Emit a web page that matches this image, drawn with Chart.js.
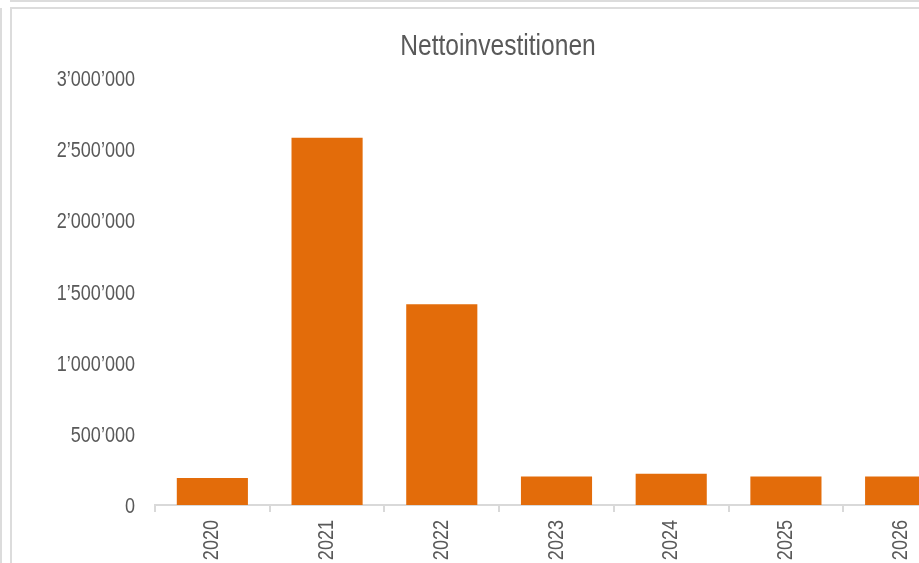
<!DOCTYPE html>
<html lang="de">
<head>
<meta charset="utf-8">
<title>Nettoinvestitionen</title>
<script src="https://cdn.jsdelivr.net/npm/chart.js@4/dist/chart.umd.min.js"></script>
<style>
  html, body {
    margin: 0;
    padding: 0;
    width: 919px;
    height: 563px;
    overflow: hidden;
    background: #ffffff;
  }
  .frame-top {
    position: absolute;
    left: 10px;
    top: 0;
    width: 960px;
    height: 2px;
    background: #dcdcdc;
  }
  .frame-left {
    position: absolute;
    left: 0;
    top: 8px;
    width: 2px;
    height: 600px;
    background: #dcdcdc;
  }
  .chart-box {
    position: absolute;
    left: 10px;
    top: 7px;
    width: 1000px;
    height: 600px;
    border-top: 2px solid #dcdcdc;
    border-left: 2px solid #dcdcdc;
  }
  .chart-wrap {
    position: absolute;
    left: 12px;
    top: 9px;
    width: 972px;
    height: 554px;
  }
</style>
</head>
<body>
<div class="frame-top"></div>
<div class="frame-left"></div>
<div class="chart-box"></div>
<div class="chart-wrap">
  <canvas id="investChart" width="972" height="554"></canvas>
</div>

<script>
// Nettoinvestitionen pro Jahr
const years = ["2020", "2021", "2022", "2023", "2024", "2025", "2026"];
const netInvest = [190000, 2580000, 1410000, 200000, 220000, 200000, 200000];
const yTicks = [0, 500000, 1000000, 1500000, 2000000, 2500000, 3000000];

// Arial Narrow is not available, so Liberation Sans gets squeezed to ~82%
const FONT = "'Liberation Sans', Arial, sans-serif";
const NARROW = 0.82;
const TEXT = "#595959";
const LINE = "#d9d9d9";
const BAR = "#e36c0a";

document.addEventListener("DOMContentLoaded", () => {
  renderChart();
});

/* ==============================
   HELPERS
============================== */
function swissNumber(v) {
  return String(v).replace(/\B(?=(\d{3})+(?!\d))/g, "\u2019");
}

// fillText with maxWidth condenses the glyphs horizontally
function condenseText(ctx) {
  const fill = ctx.fillText;
  ctx.fillText = function (text, x, y, maxWidth) {
    const w = this.measureText(text).width * NARROW;
    const mw = maxWidth === undefined ? w : Math.min(maxWidth, w);
    fill.call(this, text, x, y, mw);
  };
}

/* ==============================
   CHART
============================== */
function renderChart() {
  const canvas = document.getElementById("investChart");
  if (!canvas || typeof Chart === "undefined") return;

  const ctx = canvas.getContext("2d");
  condenseText(ctx);

  new Chart(ctx, {
    type: "bar",
    data: {
      labels: years,
      datasets: [{
        data: netInvest,
        backgroundColor: BAR,
        borderWidth: 0,
        categoryPercentage: 1,
        barPercentage: 0.62
      }]
    },
    options: {
      responsive: false,
      animation: false,
      // left/right padding equal so the title sits in the middle of the canvas
      layout: { padding: { left: 26, right: 26, top: 0, bottom: 0 } },
      plugins: {
        legend: { display: false },
        tooltip: { enabled: false },
        title: {
          display: true,
          text: "Nettoinvestitionen",
          color: TEXT,
          font: { family: FONT, size: 30, weight: "normal" },
          padding: { top: 20, bottom: 13 }
        }
      },
      scales: {
        x: {
          grid: {
            display: true,
            drawOnChartArea: false,
            drawTicks: true,
            tickLength: 7,
            color: LINE,
            lineWidth: 2
          },
          border: { display: true, color: LINE, width: 2 },
          ticks: {
            color: TEXT,
            font: { family: FONT, size: 22 },
            minRotation: 90,
            maxRotation: 90,
            padding: 8
          },
          afterFit: scale => { scale.height = 58; }
        },
        y: {
          min: 0,
          max: 3000000,
          grid: { display: false, drawTicks: false },
          border: { display: false },
          afterBuildTicks: scale => {
            scale.ticks = yTicks.map(v => ({ value: v }));
          },
          ticks: {
            color: TEXT,
            font: { family: FONT, size: 22 },
            padding: 20,
            labelOffset: 2,
            callback: v => swissNumber(v)
          },
          afterFit: scale => { scale.width = 117; }
        }
      }
    }
  });
}
</script>
</body>
</html>
